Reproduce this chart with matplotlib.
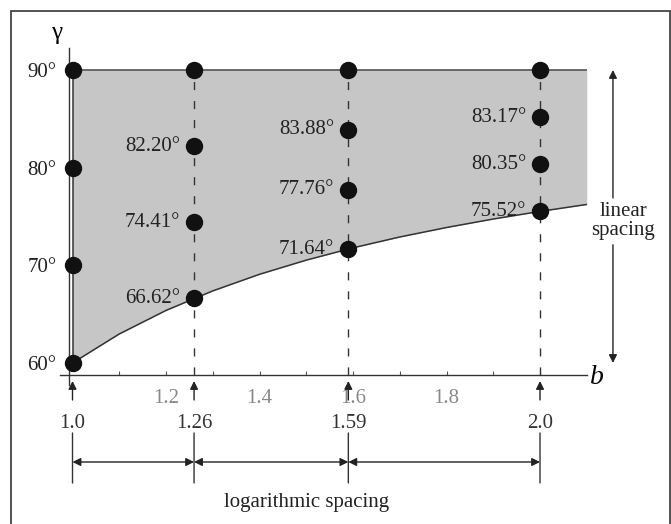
import matplotlib
matplotlib.use("Agg")
import matplotlib.pyplot as plt
from matplotlib.patches import Rectangle
from matplotlib.transforms import offset_copy

# ── Données ────────────────────────────────────────────────────────────
# bord inférieur de la zone grise (gamma en degrés, relevé tous les 0.1 en b)
curve_b = [1.0, 1.1, 1.2, 1.3, 1.4, 1.5, 1.6, 1.7, 1.8, 1.9, 2.0, 2.1]
curve_gamma = [60.0, 62.97, 65.38, 67.38, 69.08, 70.53, 71.79, 72.90, 73.87, 74.74, 75.52, 76.23]
gamma_top = 90.0

# colonnes de points (b -> valeurs gamma)
col_b = [1.0, 1.26, 1.59, 2.0]
col_gamma = [
    [60.0, 70.0, 80.0, 90.0],
    [66.62, 74.41, 82.20, 90.0],
    [71.64, 77.76, 83.88, 90.0],
    [75.52, 80.35, 85.17, 90.0],
]
# étiquettes affichées à gauche des points (None = pas d'étiquette)
col_labels = [
    [None, None, None, None],
    ["66.62°", "74.41°", "82.20°", None],
    ["71.64°", "77.76°", "83.88°", None],
    ["75.52°", "80.35°", "83.17°", None],
]
col_tick_labels = ["1.0", "1.26", "1.59", "2.0"]

x_major = [1.2, 1.4, 1.6, 1.8]
x_minor = [1.1, 1.3, 1.5, 1.7, 1.9, 2.0]
y_ticks = [60, 70, 80, 90]
y_tick_labels = ["60°", "70°", "80°", "90°"]

plt.rcParams["font.family"] = ["Liberation Serif", "DejaVu Serif"]
plt.rcParams["font.size"] = 15

W, H = 671, 524
fig = plt.figure(figsize=(W / 100, H / 100), dpi=100)

# cadre extérieur
fig.patches.append(Rectangle((11 / W, -0.02), (670 - 11) / W, 1.02 - 11 / H,
                             transform=fig.transFigure, fill=False,
                             edgecolor="#444", linewidth=1.3))

ax = fig.add_axes([69 / W, (H - 375) / H, (587 - 69) / W, (375 - 48) / H])
ax.set_xlim(0.9925, 2.1005)
ax.set_ylim(58.77, 92.25)
ax.set_facecolor("none")
for side in ("top", "right"):
    ax.spines[side].set_visible(False)
ax.spines["left"].set_bounds(57.7, 92.25)
ax.spines["bottom"].set_bounds(0.973, 2.1005)
for side in ("left", "bottom"):
    ax.spines[side].set_color("#333")
    ax.spines[side].set_linewidth(1.0)

ax.set_xticks(x_major)
ax.set_xticklabels([f"{v:.1f}" for v in x_major], color="#888")
ax.set_xticks(x_minor, minor=True)
ax.tick_params(axis="x", which="both", direction="in", length=3, width=0.8,
               color="#555", pad=10)
ax.set_yticks(y_ticks)
ax.set_yticklabels(y_tick_labels, color="#222")
ax.tick_params(axis="y", length=0, pad=9)

# zone grise
ax.fill_between(curve_b, curve_gamma, gamma_top, color="#c6c6c6", linewidth=0, zorder=1)
ax.plot(curve_b, curve_gamma, color="#333", lw=1.1, zorder=2)
ax.plot([curve_b[0], curve_b[-1]], [gamma_top, gamma_top], color="#444", lw=1.1, zorder=2)
ax.plot([curve_b[0], curve_b[0]], [curve_gamma[0], gamma_top], color="#333", lw=1.1, zorder=2)

# pointillés verticaux
ax.vlines(col_b[1:], ax.get_ylim()[0], gamma_top, colors="#333",
          linestyles=(0, (5.8, 7.9)), lw=1.0, zorder=2)

# points + étiquettes
for b, gs, labs in zip(col_b, col_gamma, col_labels):
    ax.plot([b] * len(gs), gs, "o", color="#111", ms=11.5, clip_on=False, zorder=4)
    for g, lab in zip(gs, labs):
        if lab:
            ax.annotate(lab, (b, g), xytext=(-14, 0), textcoords="offset pixels",
                        ha="right", va="center", color="#222")

ax.annotate("γ", (0, 1), xycoords="axes fraction", xytext=(-12, 15),
            textcoords="offset pixels", ha="center", va="center", fontsize=18)
ax.annotate("b", (1, 0), xycoords="axes fraction", xytext=(10, -2),
            textcoords="offset pixels", ha="center", va="center", fontsize=20,
            style="italic")

# flèches et repères sous l'axe (espacement logarithmique)
arrow_kw = dict(arrowstyle="-|>", color="#222", lw=1.0, mutation_scale=12,
                shrinkA=0, shrinkB=0)
xt = ax.get_xaxis_transform()
t_tip = offset_copy(xt, fig=fig, x=0, y=-6, units="dots")
t_tail = offset_copy(xt, fig=fig, x=0, y=-25, units="dots")
t_lab = offset_copy(xt, fig=fig, x=0, y=-48, units="dots")
t_mid = offset_copy(xt, fig=fig, x=0, y=-58, units="dots")
t_arr = offset_copy(xt, fig=fig, x=0, y=-87, units="dots")
t_low = offset_copy(xt, fig=fig, x=0, y=-108, units="dots")
t_txt = offset_copy(xt, fig=fig, x=0, y=-128, units="dots")

for b, lab in zip(col_b, col_tick_labels):
    ax.annotate("", xy=(b, 0), xycoords=t_tip, xytext=(b, 0), textcoords=t_tail,
                arrowprops=arrow_kw, annotation_clip=False)
    ax.text(b, 0, lab, transform=t_lab, ha="center", va="center", color="#333")
    ax.annotate("", xy=(b, 0), xycoords=t_low, xytext=(b, 0), textcoords=t_mid,
                arrowprops=dict(arrowstyle="-", color="#333", lw=1.0, shrinkA=0, shrinkB=0),
                annotation_clip=False)

for b0, b1 in zip(col_b[:-1], col_b[1:]):
    ax.annotate("", xy=(b1, 0), xycoords=t_arr, xytext=(b0, 0), textcoords=t_arr,
                arrowprops=dict(arrowstyle="<|-|>", color="#222", lw=1.0,
                                mutation_scale=12, shrinkA=0, shrinkB=0),
                annotation_clip=False)
ax.text((col_b[0] + col_b[-1]) / 2, 0, "logarithmic spacing", transform=t_txt,
        ha="center", va="center", color="#222")

# flèche d'espacement linéaire
lin_b = 2.156
ax.text(lin_b + 0.022, 74.5, "linear\nspacing", ha="center", va="center",
        linespacing=1.0, color="#222", clip_on=False)
ax.annotate("", xy=(lin_b, 90.0), xytext=(lin_b, 76.9),
            arrowprops=arrow_kw, annotation_clip=False)
ax.annotate("", xy=(lin_b, 60.0), xytext=(lin_b, 72.1),
            arrowprops=arrow_kw, annotation_clip=False)

fig.savefig("out.png", dpi=100)
